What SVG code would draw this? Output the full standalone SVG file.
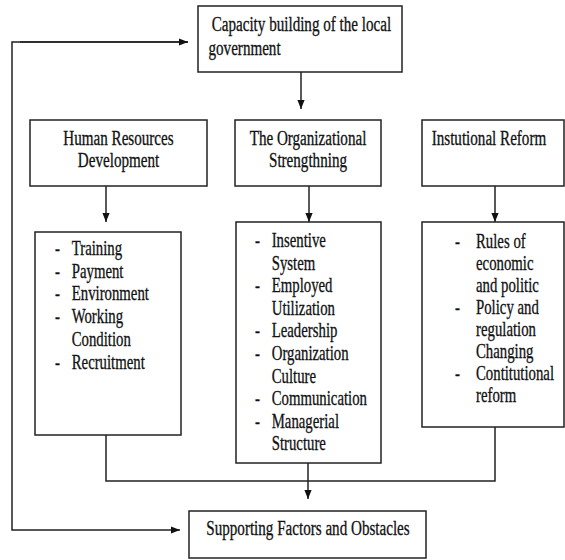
<svg xmlns="http://www.w3.org/2000/svg" width="565" height="560" viewBox="0 0 565 560">
<style>
.box{fill:#fff;stroke:#222;stroke-width:1.5}
.ln{fill:none;stroke:#222;stroke-width:1.5}
text{font-family:"Liberation Serif","Times New Roman",serif;fill:#111;stroke:#111;stroke-width:0.3}
.t{font-size:20px}
.l{font-size:20px}
.c{text-anchor:middle}
</style>
<defs>
<marker id="ah" viewBox="0 0 10 10" refX="10" refY="5" markerWidth="9" markerHeight="9" markerUnits="userSpaceOnUse" orient="auto">
<path d="M0,1 L10,5 L0,9 z" fill="#111"/>
</marker>
</defs>
<rect width="565" height="560" fill="#fff"/>
<g id="connectors">
<path class="ln" d="M301,72 V109" marker-end="url(#ah)"/>
<path class="ln" d="M106,186 V222" marker-end="url(#ah)"/>
<path class="ln" d="M309,186 V222" marker-end="url(#ah)"/>
<path class="ln" d="M495,186 V222" marker-end="url(#ah)"/>
<path class="ln" d="M106,435 V481 H495 V427"/>
<path class="ln" d="M308,463 V499" marker-end="url(#ah)"/>
<path class="ln" d="M188,42 H12 V530 H180" marker-end="url(#ah)"/>
<path class="ln" d="M20,42 H188" marker-end="url(#ah)"/>
</g>
<g id="capacity">
<rect class="box" x="198" y="6" width="204" height="66"/>
<text class="t" transform="translate(211.7 31) scale(0.755 1)">Capacity building of the local</text>
<text class="t" transform="translate(208.5 54.5) scale(0.755 1)">government</text>
</g>
<g id="hrd">
<rect class="box" x="30" y="120" width="177" height="66"/>
<text class="t c" transform="translate(118.5 145) scale(0.755 1)">Human Resources</text>
<text class="t c" transform="translate(118.5 167) scale(0.755 1)">Development</text>
</g>
<g id="org">
<rect class="box" x="235" y="120" width="146" height="66"/>
<text class="t c" transform="translate(308 145) scale(0.755 1)">The Organizational</text>
<text class="t c" transform="translate(308 167) scale(0.755 1)">Strengthning</text>
</g>
<g id="inst">
<rect class="box" x="422" y="120" width="142" height="66"/>
<text class="t" transform="translate(431.7 145) scale(0.755 1)">Instutional Reform</text>
</g>
<g id="hrd-list">
<rect class="box" x="35" y="232" width="146" height="203"/>
<text class="l" transform="translate(55 255) scale(0.74 1)">-</text>
<text class="l" transform="translate(71.7 255) scale(0.74 1)">Training</text>
<text class="l" transform="translate(55 277.7) scale(0.74 1)">-</text>
<text class="l" transform="translate(71.7 277.7) scale(0.74 1)">Payment</text>
<text class="l" transform="translate(55 300.4) scale(0.74 1)">-</text>
<text class="l" transform="translate(71.7 300.4) scale(0.74 1)">Environment</text>
<text class="l" transform="translate(55 323.1) scale(0.74 1)">-</text>
<text class="l" transform="translate(71.7 323.1) scale(0.74 1)">Working</text>
<text class="l" transform="translate(71.7 345.8) scale(0.74 1)">Condition</text>
<text class="l" transform="translate(55 368.5) scale(0.74 1)">-</text>
<text class="l" transform="translate(71.7 368.5) scale(0.74 1)">Recruitment</text>
</g>
<g id="org-list">
<rect class="box" x="236" y="222" width="145" height="241"/>
<text class="l" transform="translate(255 247) scale(0.74 1)">-</text>
<text class="l" transform="translate(271.7 247) scale(0.74 1)">Insentive</text>
<text class="l" transform="translate(271.7 269.6) scale(0.74 1)">System</text>
<text class="l" transform="translate(255 292.2) scale(0.74 1)">-</text>
<text class="l" transform="translate(271.7 292.2) scale(0.74 1)">Employed</text>
<text class="l" transform="translate(271.7 314.8) scale(0.74 1)">Utilization</text>
<text class="l" transform="translate(255 337.4) scale(0.74 1)">-</text>
<text class="l" transform="translate(271.7 337.4) scale(0.74 1)">Leadership</text>
<text class="l" transform="translate(255 360) scale(0.74 1)">-</text>
<text class="l" transform="translate(271.7 360) scale(0.74 1)">Organization</text>
<text class="l" transform="translate(271.7 382.6) scale(0.74 1)">Culture</text>
<text class="l" transform="translate(255 405.2) scale(0.74 1)">-</text>
<text class="l" transform="translate(271.7 405.2) scale(0.74 1)">Communication</text>
<text class="l" transform="translate(255 427.8) scale(0.74 1)">-</text>
<text class="l" transform="translate(271.7 427.8) scale(0.74 1)">Managerial</text>
<text class="l" transform="translate(271.7 450.4) scale(0.74 1)">Structure</text>
</g>
<g id="inst-list">
<rect class="box" x="422" y="222" width="142" height="205"/>
<text class="l" transform="translate(455 248) scale(0.74 1)">-</text>
<text class="l" transform="translate(476 248) scale(0.74 1)">Rules of</text>
<text class="l" transform="translate(476 270) scale(0.74 1)">economic</text>
<text class="l" transform="translate(476 292) scale(0.74 1)">and politic</text>
<text class="l" transform="translate(455 313.5) scale(0.74 1)">-</text>
<text class="l" transform="translate(476 313.5) scale(0.74 1)">Policy and</text>
<text class="l" transform="translate(476 335.5) scale(0.74 1)">regulation</text>
<text class="l" transform="translate(476 357.5) scale(0.74 1)">Changing</text>
<text class="l" transform="translate(455 379.5) scale(0.74 1)">-</text>
<text class="l" transform="translate(476 379.5) scale(0.74 1)">Contitutional</text>
<text class="l" transform="translate(476 401.5) scale(0.74 1)">reform</text>
</g>
<g id="supporting">
<rect class="box" x="189" y="511" width="237" height="47"/>
<text class="t c" transform="translate(308 535) scale(0.755 1)">Supporting Factors and Obstacles</text>
</g>
</svg>
